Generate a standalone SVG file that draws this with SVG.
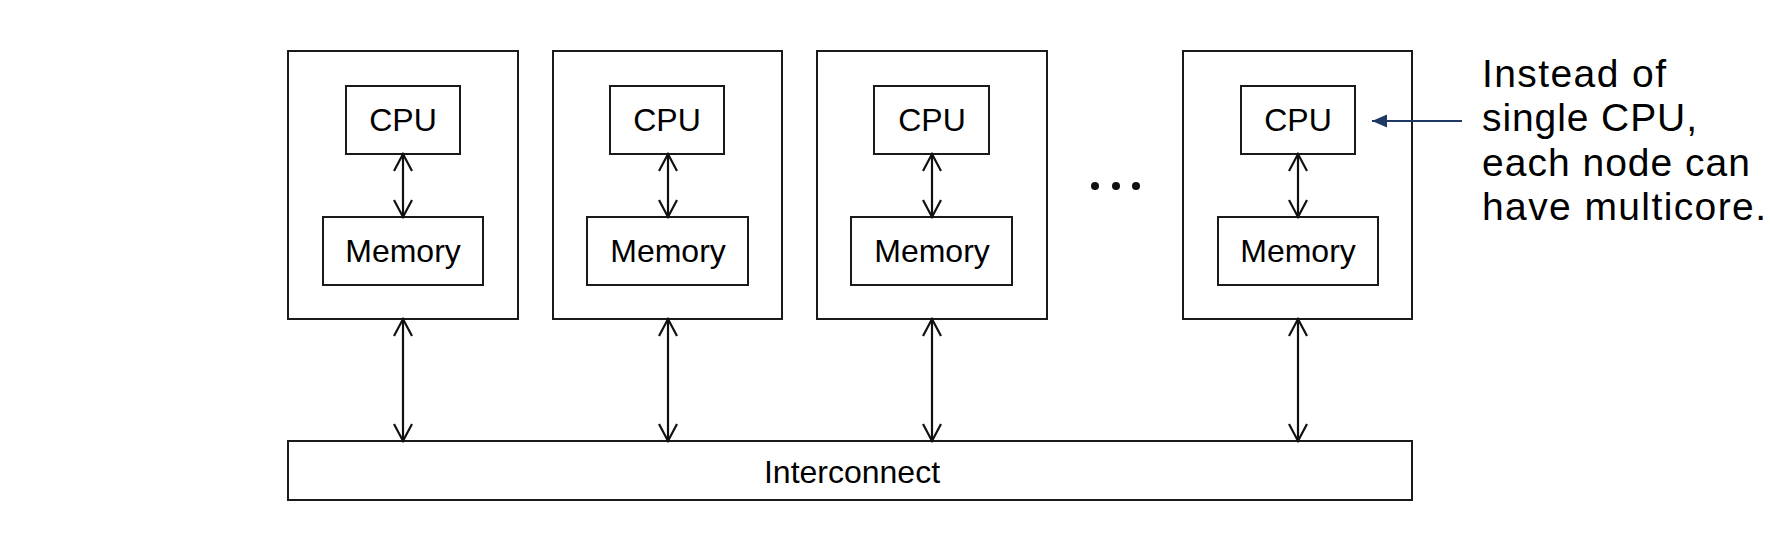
<svg xmlns="http://www.w3.org/2000/svg" width="1770" height="545" viewBox="0 0 1770 545">
<style>
.box{fill:#fff;stroke:#1a1a1a;stroke-width:2}
.lbl{font-family:"Liberation Sans",Arial,Helvetica,sans-serif;font-size:32px;fill:#000;text-anchor:middle}
.link{stroke:#111;stroke-width:2.2;fill:none;marker-start:url(#open);marker-end:url(#open)}
.note{font-family:"Liberation Sans",Arial,sans-serif;font-size:39px;fill:#000}
</style>
<defs>
<marker id="open" markerUnits="userSpaceOnUse" markerWidth="24" markerHeight="24" viewBox="-20 -12 24 24" refX="0" refY="0" orient="auto-start-reverse">
<path d="M-17,-9 L0,0 L-17,9" fill="none" stroke="#111" stroke-width="2.2"/>
</marker>
<marker id="solid" markerUnits="userSpaceOnUse" markerWidth="20" markerHeight="20" viewBox="-18 -10 20 20" refX="0" refY="0" orient="auto">
<path d="M-15,-6.5 L0,0 L-15,6.5 Z" fill="#203864"/>
</marker>
</defs>
<rect width="1770" height="545" fill="#fff"/>

<g id="node1">
<rect class="box" x="288" y="51" width="230" height="268"/>
<g id="cpu1"><rect class="box" x="346" y="86" width="114" height="68"/><text class="lbl" x="403" y="131">CPU</text></g>
<g id="mem1"><rect class="box" x="323" y="217" width="160" height="68"/><text class="lbl" x="403" y="262">Memory</text></g>
</g>
<g id="node2">
<rect class="box" x="553" y="51" width="229" height="268"/>
<g id="cpu2"><rect class="box" x="610" y="86" width="114" height="68"/><text class="lbl" x="667" y="131">CPU</text></g>
<g id="mem2"><rect class="box" x="587" y="217" width="161" height="68"/><text class="lbl" x="668" y="262">Memory</text></g>
</g>
<g id="node3">
<rect class="box" x="817" y="51" width="230" height="268"/>
<g id="cpu3"><rect class="box" x="874" y="86" width="115" height="68"/><text class="lbl" x="932" y="131">CPU</text></g>
<g id="mem3"><rect class="box" x="851" y="217" width="161" height="68"/><text class="lbl" x="932" y="262">Memory</text></g>
</g>
<g id="ellipsis">
<circle cx="1095" cy="186" r="4" fill="#111"/>
<circle cx="1116" cy="186" r="4" fill="#111"/>
<circle cx="1136" cy="186" r="4" fill="#111"/>
</g>
<g id="node4">
<rect class="box" x="1183" y="51" width="229" height="268"/>
<g id="cpu4"><rect class="box" x="1241" y="86" width="114" height="68"/><text class="lbl" x="1298" y="131">CPU</text></g>
<g id="mem4"><rect class="box" x="1218" y="217" width="160" height="68"/><text class="lbl" x="1298" y="262">Memory</text></g>
</g>
<g id="interconnect">
<rect class="box" x="288" y="441" width="1124" height="59"/>
<text class="lbl" x="852" y="483">Interconnect</text>
</g>

<g id="connectors">
<line class="link" x1="403" y1="154" x2="403" y2="217"/>
<line class="link" x1="668" y1="154" x2="668" y2="217"/>
<line class="link" x1="932" y1="154" x2="932" y2="217"/>
<line class="link" x1="1298" y1="154" x2="1298" y2="217"/>
<line class="link" x1="403" y1="319" x2="403" y2="441"/>
<line class="link" x1="668" y1="319" x2="668" y2="441"/>
<line class="link" x1="932" y1="319" x2="932" y2="441"/>
<line class="link" x1="1298" y1="319" x2="1298" y2="441"/>
<line x1="1462" y1="121" x2="1372" y2="121" stroke="#203864" stroke-width="2" marker-end="url(#solid)"/>
</g>

<g id="note">
<text class="note" x="1482" y="86.5" textLength="184" lengthAdjust="spacing">Instead of</text>
<text class="note" x="1482" y="131" textLength="215" lengthAdjust="spacing">single CPU,</text>
<text class="note" x="1482" y="175.5" textLength="268" lengthAdjust="spacing">each node can</text>
<text class="note" x="1482" y="220" textLength="284" lengthAdjust="spacing">have multicore.</text>
</g>
</svg>
